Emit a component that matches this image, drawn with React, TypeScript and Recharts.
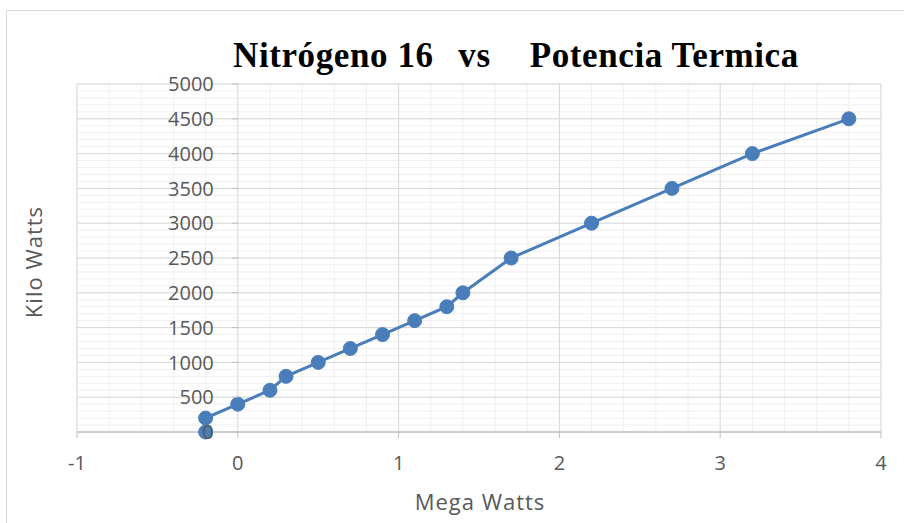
import React from 'react';
import {
  LineChart,
  Line,
  XAxis,
  YAxis,
  ReferenceLine,
  ReferenceDot,
} from 'recharts';

// Mega Watts (x) vs Kilo Watts (y)
const megaWatts = [-0.2, -0.2, 0, 0.2, 0.3, 0.5, 0.7, 0.9, 1.1, 1.3, 1.4, 1.7, 2.2, 2.7, 3.2, 3.8];
const kiloWatts = [0, 200, 400, 600, 800, 1000, 1200, 1400, 1600, 1800, 2000, 2500, 3000, 3500, 4000, 4500];

const xTicks = [-1, 0, 1, 2, 3, 4];
const yTicks = [0, 500, 1000, 1500, 2000, 2500, 3000, 3500, 4000, 4500, 5000];

// minor gridlines: every 0.2 on x, every 100 on y
const xMinor = Array.from({ length: 26 }, (_, i) => Math.round((-1 + i * 0.2) * 10) / 10);
const yMinor = Array.from({ length: 51 }, (_, i) => i * 100);

const data = megaWatts.map((x, i) => ({ x, y: kiloWatts[i] }));

const labelColor = '#595959';
const font = '"Open Sans", sans-serif';

const YTickAtZero = (props: any) => {
  const { cx, cy, value } = props;
  return (
    <g>
      <line x1={cx - 6} x2={cx} y1={cy} y2={cy} stroke="#bfbfbf" strokeWidth={1} />
      <text
        x={cx - 24}
        y={cy}
        dy="0.36em"
        textAnchor="end"
        fill={labelColor}
        fontSize={20}
        fontFamily={font}
      >
        {value}
      </text>
    </g>
  );
};

export default function App() {
  return (
    <div style={{ position: 'absolute', left: 0, top: 0, width: 904, height: 523, background: '#fff', overflow: 'hidden' }}>
      <div
        style={{
          position: 'absolute',
          left: 6,
          top: 10,
          width: 920,
          height: 540,
          border: '1px solid #d9d9d9',
        }}
      />
      <LineChart
        width={904}
        height={523}
        data={data}
        margin={{ top: 84, right: 23, left: 77, bottom: 0 }}
        style={{ position: 'absolute', left: 0, top: 0 }}
      >
        <XAxis
          dataKey="x"
          type="number"
          domain={[-1, 4]}
          ticks={xTicks}
          allowDataOverflow
          height={91}
          axisLine={{ stroke: '#bfbfbf' }}
          tickLine={{ stroke: '#bfbfbf' }}
          tickSize={6}
          tickMargin={18}
          tick={{ fill: labelColor, fontSize: 20, fontFamily: font }}
        />
        <YAxis
          dataKey="y"
          type="number"
          domain={[0, 5000]}
          ticks={yTicks}
          width={0}
          axisLine={false}
          tickLine={false}
          tick={false}
        />
        {xMinor.map((v) => (
          <ReferenceLine key={'xm' + v} x={v} stroke="#f0f0f0" strokeWidth={1} />
        ))}
        {yMinor.map((v) => (
          <ReferenceLine key={'ym' + v} y={v} stroke="#f0f0f0" strokeWidth={1} />
        ))}
        {xTicks.map((v) => (
          <ReferenceLine key={'xj' + v} x={v} stroke="#d9d9d9" strokeWidth={1} />
        ))}
        {yTicks.slice(1).map((v) => (
          <ReferenceLine key={'yj' + v} y={v} stroke="#d9d9d9" strokeWidth={1} />
        ))}
        <ReferenceLine y={0} stroke="#bfbfbf" strokeWidth={1} />
        <Line
          type="linear"
          dataKey="y"
          stroke="#4a7ebb"
          strokeWidth={3}
          dot={{ r: 7, fill: '#4a7ebb', stroke: '#4a7ebb', strokeWidth: 1 }}
          isAnimationActive={false}
        />
        {yTicks.map((v) => (
          <ReferenceDot
            key={v}
            x={0}
            y={v}
            r={0}
            zIndex={1000}
            shape={(p: any) => <YTickAtZero {...p} value={v} />}
          />
        ))}
      </LineChart>
      <div
        style={{
          position: 'absolute',
          left: 233,
          top: 36,
          fontFamily: '"Liberation Serif", "Times New Roman", serif',
          fontWeight: 'bold',
          fontSize: 35,
          letterSpacing: 0.6,
          color: '#000',
          whiteSpace: 'pre',
          lineHeight: '40px',
        }}
      >
        <span>{'Nitrógeno 16  '}</span>
        <span style={{ marginLeft: 6 }}>{'vs   '}</span>
        <span style={{ marginLeft: 11 }}>Potencia Termica</span>
      </div>
      <div
        style={{
          position: 'absolute',
          left: 380,
          width: 200,
          top: 486,
          textAlign: 'center',
          fontFamily: font,
          fontSize: 22,
          letterSpacing: 1,
          color: labelColor,
          lineHeight: '30px',
        }}
      >
        Mega Watts
      </div>
      <div
        style={{
          position: 'absolute',
          left: 33 - 100,
          width: 200,
          top: 262 - 15,
          textAlign: 'center',
          fontFamily: font,
          fontSize: 22,
          letterSpacing: 1,
          color: labelColor,
          lineHeight: '30px',
          transform: 'rotate(-90deg)',
        }}
      >
        Kilo Watts
      </div>
    </div>
  );
}
